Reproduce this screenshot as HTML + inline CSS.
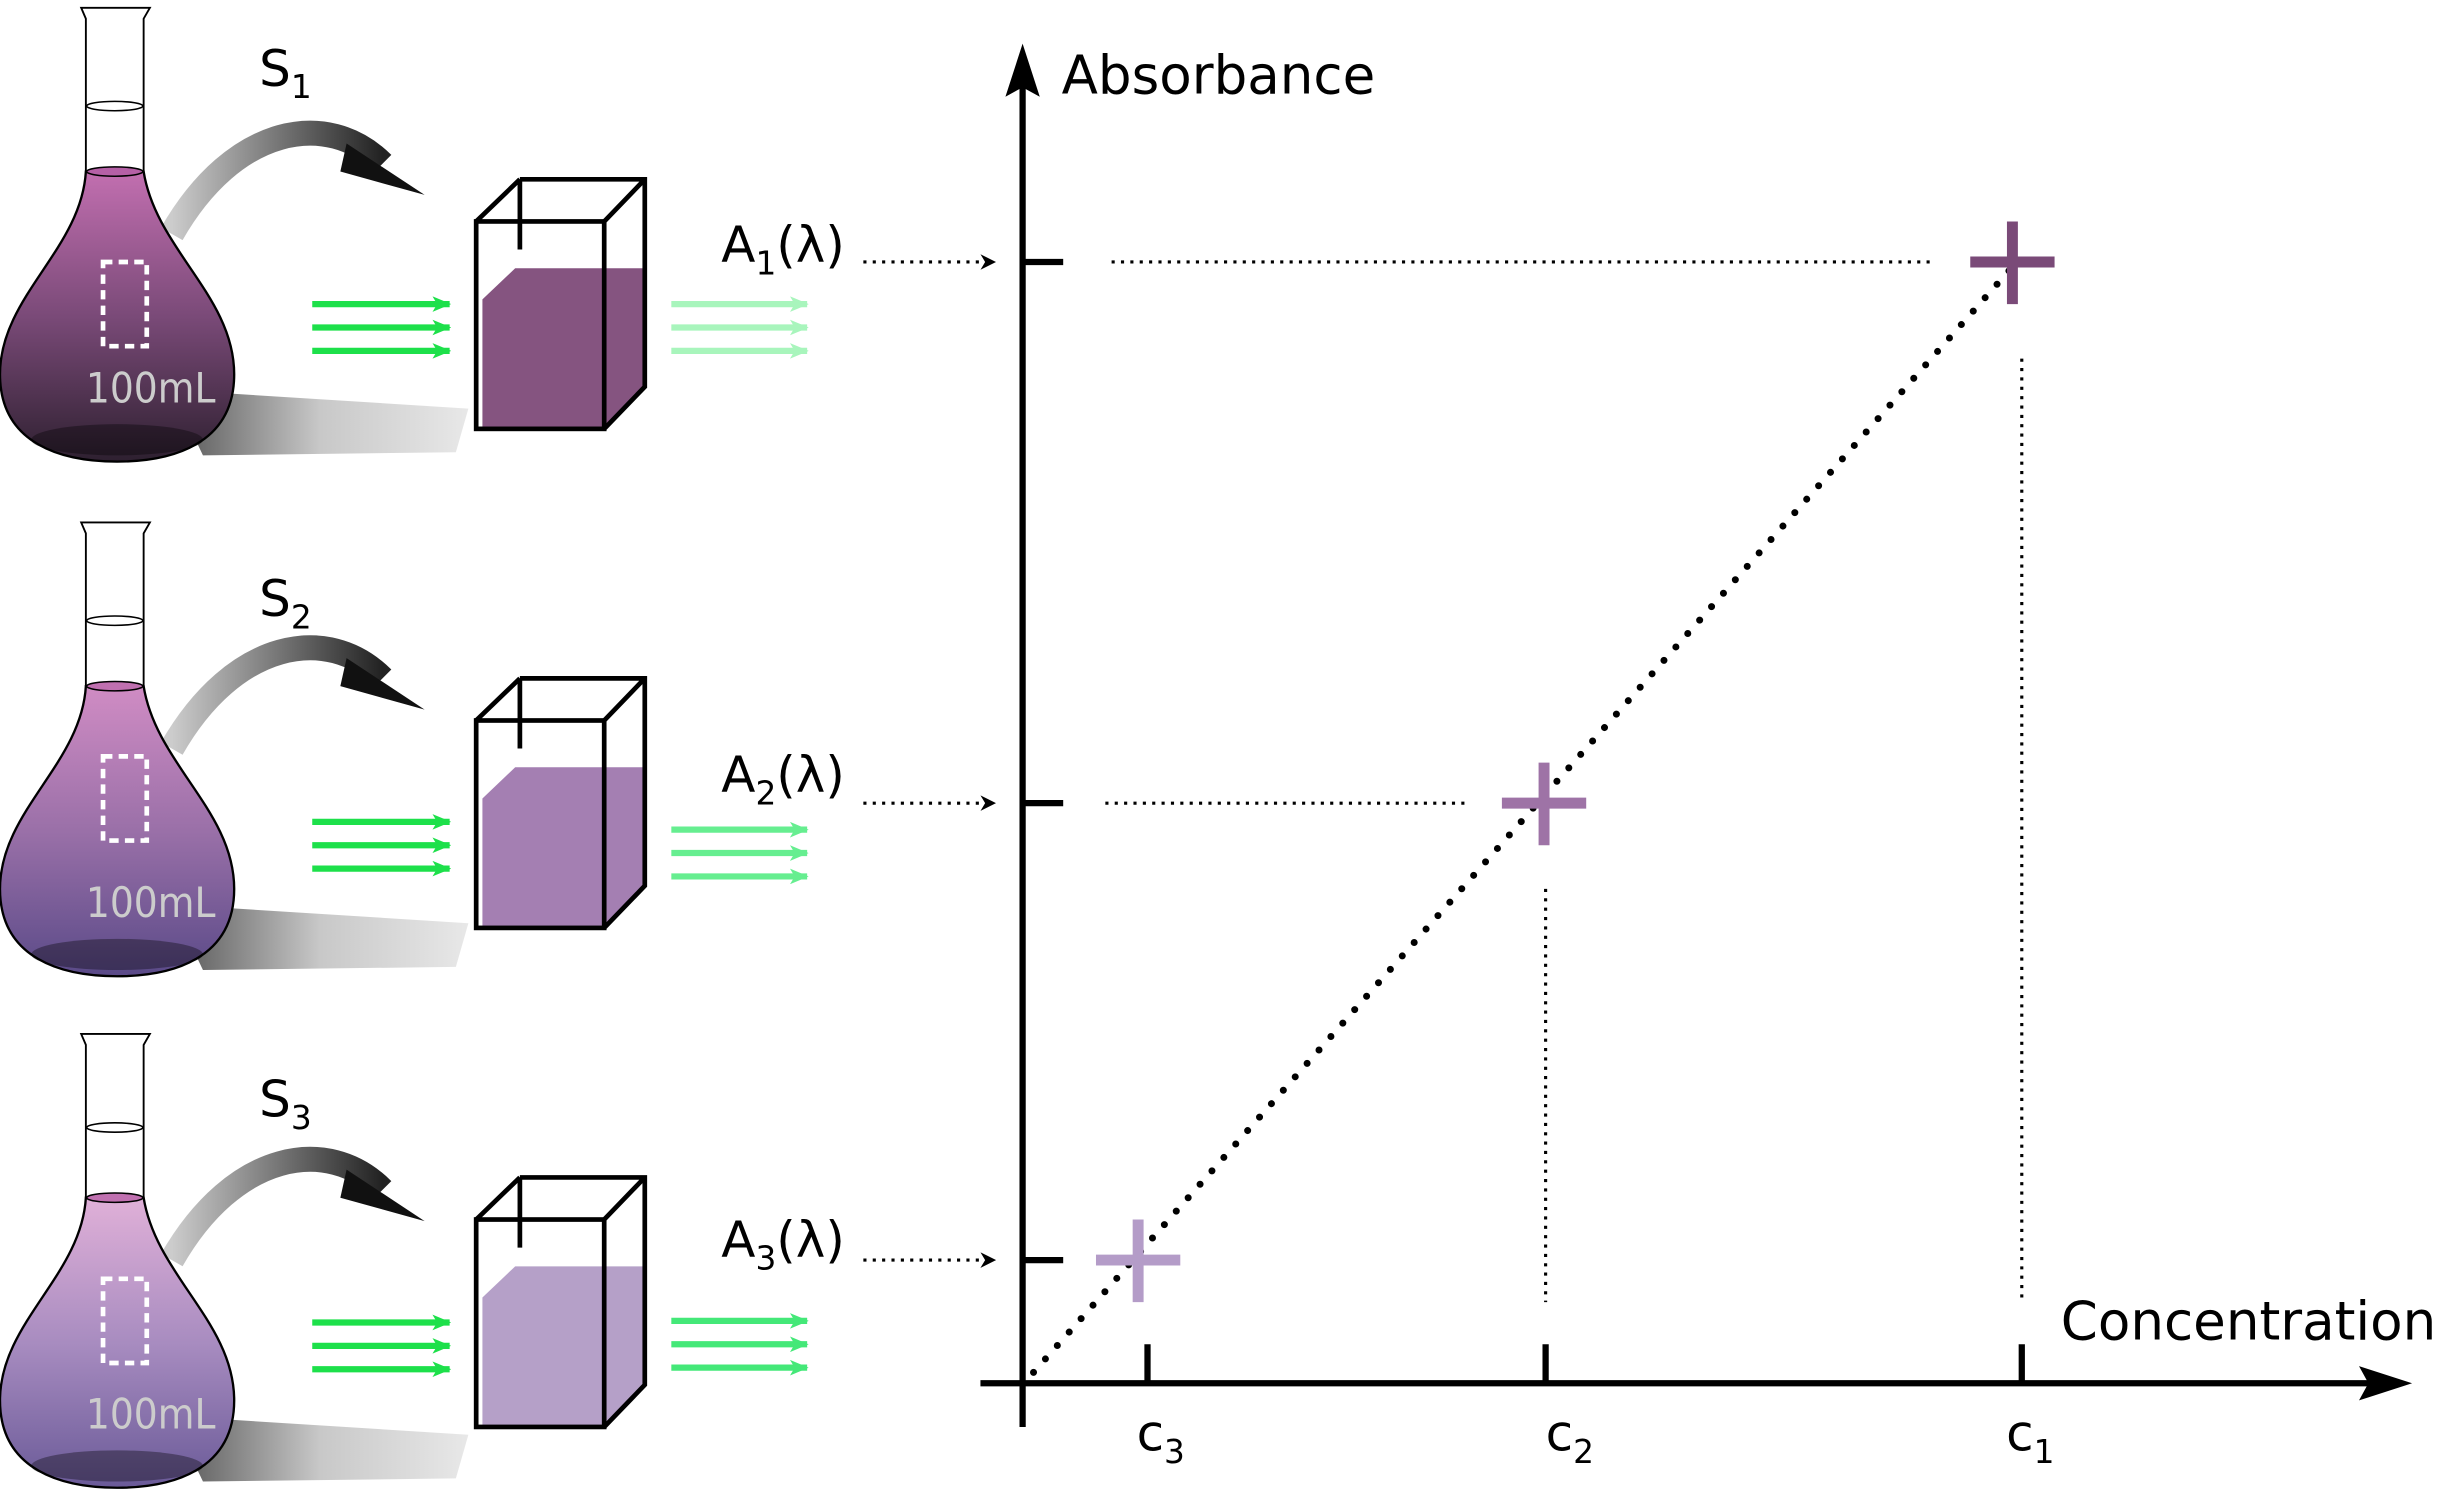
<!DOCTYPE html>
<html><head><meta charset="utf-8"><style>
html,body{margin:0;padding:0;background:#fff;}
svg{display:block;}
text{font-family:"DejaVu Sans","Liberation Sans",sans-serif;}
</style></head><body>
<svg width="2448" height="1494" viewBox="0 0 1568 958" preserveAspectRatio="none" xmlns="http://www.w3.org/2000/svg">
<defs>
<linearGradient id="ga" x1="0" y1="0" x2="1" y2="0"><stop offset="0" stop-color="#ccc"/><stop offset="1" stop-color="#222"/></linearGradient>
<linearGradient id="sh" x1="0" y1="0" x2="1" y2="0"><stop offset="0" stop-color="#555"/><stop offset="0.5" stop-color="#c8c8c8"/><stop offset="1" stop-color="#e8e8e8"/></linearGradient>
<linearGradient id="f1" x1="0" y1="0" x2="0" y2="1"><stop offset="0" stop-color="#c26fb0"/><stop offset="0.5" stop-color="#7a4a78"/><stop offset="1" stop-color="#2e2030"/></linearGradient>
<linearGradient id="f2" x1="0" y1="0" x2="0" y2="1"><stop offset="0" stop-color="#d08cc4"/><stop offset="0.5" stop-color="#9a70a8"/><stop offset="1" stop-color="#5a4a88"/></linearGradient>
<linearGradient id="f3" x1="0" y1="0" x2="0" y2="1"><stop offset="0" stop-color="#e0b0d8"/><stop offset="0.5" stop-color="#a88cc0"/><stop offset="1" stop-color="#6a5a98"/></linearGradient>
<marker id="ah" markerWidth="10" markerHeight="10" refX="9" refY="5" orient="auto" markerUnits="userSpaceOnUse"><path d="M0,0 L10,5 L0,10 L3,5z" fill="#000"/></marker>
<marker id="g1" markerWidth="12" markerHeight="10" refX="11" refY="5" orient="auto" markerUnits="userSpaceOnUse"><path d="M0,0 L12,5 L0,10 L3,5z" fill="#1de04a"/></marker>
<marker id="g2" markerWidth="12" markerHeight="10" refX="11" refY="5" orient="auto" markerUnits="userSpaceOnUse"><path d="M0,0 L12,5 L0,10 L3,5z" fill="#a8f5bc"/></marker>
<marker id="g3" markerWidth="12" markerHeight="10" refX="11" refY="5" orient="auto" markerUnits="userSpaceOnUse"><path d="M0,0 L12,5 L0,10 L3,5z" fill="#66ee90"/></marker>
<marker id="g4" markerWidth="12" markerHeight="10" refX="11" refY="5" orient="auto" markerUnits="userSpaceOnUse"><path d="M0,0 L12,5 L0,10 L3,5z" fill="#44e878"/></marker>
</defs>

<g>
 <path d="M110,250 L300,262 L292,290 L130,292z" fill="url(#sh)"/>
 <path d="M110,150 C150,80 210,70 245,105" stroke="url(#ga)" stroke-width="16" fill="none"/>
 <path d="M222,92 L272,125 L218,110z" fill="#111"/>
 <path d="M55,110 C52,160 0,190 0,240 C0,285 40,296 75,296 C110,296 150,285 150,240 C150,190 100,160 92,110z" fill="url(#f1)" stroke="#000" stroke-width="1.5"/>
 <path d="M52,5 L96,5 L92,12 L92,110 L55,110 L55,12z" fill="#fff" stroke="#000" stroke-width="1.2"/>
 <ellipse cx="73.5" cy="68" rx="18" ry="3" fill="none" stroke="#000" stroke-width="1"/>
 <ellipse cx="73.5" cy="110" rx="18" ry="3" fill="#b560a6" stroke="#000" stroke-width="1"/>
 <rect x="66" y="168" width="28" height="54" fill="none" stroke="#fff" stroke-width="3" stroke-dasharray="6,4"/>
 <ellipse cx="75" cy="282" rx="55" ry="10" fill="#000" opacity="0.35"/>
 <text x="55" y="258" font-size="27" fill="#ccc" textLength="83" lengthAdjust="spacingAndGlyphs">100mL</text>
 <text x="166" y="55" font-size="32">S<tspan font-size="21" dy="8">1</tspan></text>
</g>
<g transform="translate(0,330)">
 <path d="M110,250 L300,262 L292,290 L130,292z" fill="url(#sh)"/>
 <path d="M110,150 C150,80 210,70 245,105" stroke="url(#ga)" stroke-width="16" fill="none"/>
 <path d="M222,92 L272,125 L218,110z" fill="#111"/>
 <path d="M55,110 C52,160 0,190 0,240 C0,285 40,296 75,296 C110,296 150,285 150,240 C150,190 100,160 92,110z" fill="url(#f2)" stroke="#000" stroke-width="1.5"/>
 <path d="M52,5 L96,5 L92,12 L92,110 L55,110 L55,12z" fill="#fff" stroke="#000" stroke-width="1.2"/>
 <ellipse cx="73.5" cy="68" rx="18" ry="3" fill="none" stroke="#000" stroke-width="1"/>
 <ellipse cx="73.5" cy="110" rx="18" ry="3" fill="#c070b0" stroke="#000" stroke-width="1"/>
 <rect x="66" y="155" width="28" height="54" fill="none" stroke="#fff" stroke-width="3" stroke-dasharray="6,4"/>
 <ellipse cx="75" cy="282" rx="55" ry="10" fill="#000" opacity="0.35"/>
 <text x="55" y="258" font-size="27" fill="#ccc" textLength="83" lengthAdjust="spacingAndGlyphs">100mL</text>
 <text x="166" y="65" font-size="32">S<tspan font-size="21" dy="8">2</tspan></text>
</g>
<g transform="translate(0,658)">
 <path d="M110,250 L300,262 L292,290 L130,292z" fill="url(#sh)"/>
 <path d="M110,150 C150,80 210,70 245,105" stroke="url(#ga)" stroke-width="16" fill="none"/>
 <path d="M222,92 L272,125 L218,110z" fill="#111"/>
 <path d="M55,110 C52,160 0,190 0,240 C0,285 40,296 75,296 C110,296 150,285 150,240 C150,190 100,160 92,110z" fill="url(#f3)" stroke="#000" stroke-width="1.5"/>
 <path d="M52,5 L96,5 L92,12 L92,110 L55,110 L55,12z" fill="#fff" stroke="#000" stroke-width="1.2"/>
 <ellipse cx="73.5" cy="65" rx="18" ry="3" fill="none" stroke="#000" stroke-width="1"/>
 <ellipse cx="73.5" cy="110" rx="18" ry="3" fill="#c070b0" stroke="#000" stroke-width="1"/>
 <rect x="66" y="162" width="28" height="54" fill="none" stroke="#fff" stroke-width="3" stroke-dasharray="6,4"/>
 <ellipse cx="75" cy="282" rx="55" ry="10" fill="#000" opacity="0.35"/>
 <text x="55" y="258" font-size="27" fill="#ccc" textLength="83" lengthAdjust="spacingAndGlyphs">100mL</text>
 <text x="166" y="58" font-size="32">S<tspan font-size="21" dy="8">3</tspan></text>
</g>

<g fill="none" stroke="#000" stroke-width="3">
 <g>
  <path d="M309,192 L330,172 L412,172 L412,248 L387,275 L309,275z" fill="#855480" stroke="none"/>
  <path d="M333,115 L413,115 L413,248 L387,275 M305,142 L333,115 M387,142 L413,115 M333,115 L333,160"/>
  <rect x="305" y="142" width="82" height="133"/>
 </g>
 <g transform="translate(0,320)">
  <path d="M309,192 L330,172 L412,172 L412,248 L387,275 L309,275z" fill="#a47fb2" stroke="none"/>
  <path d="M333,115 L413,115 L413,248 L387,275 M305,142 L333,115 M387,142 L413,115 M333,115 L333,160"/>
  <rect x="305" y="142" width="82" height="133"/>
 </g>
 <g transform="translate(0,640)">
  <path d="M309,192 L330,172 L412,172 L412,248 L387,275 L309,275z" fill="#b5a0c8" stroke="none"/>
  <path d="M333,115 L413,115 L413,248 L387,275 M305,142 L333,115 M387,142 L413,115 M333,115 L333,160"/>
  <rect x="305" y="142" width="82" height="133"/>
 </g>
</g>

<g stroke-width="4">
 <g stroke="#1de04a" marker-end="url(#g1)">
  <path d="M200,195 H288"/><path d="M200,210 H288"/><path d="M200,225 H288"/>
  <path d="M200,527 H288"/><path d="M200,542 H288"/><path d="M200,557 H288"/>
  <path d="M200,848 H288"/><path d="M200,863 H288"/><path d="M200,878 H288"/>
 </g>
 <g stroke="#a8f5bc" marker-end="url(#g2)"><path d="M430,195 H517"/><path d="M430,210 H517"/><path d="M430,225 H517"/></g>
 <g stroke="#66ee90" marker-end="url(#g3)"><path d="M430,532 H517"/><path d="M430,547 H517"/><path d="M430,562 H517"/></g>
 <g stroke="#44e878" marker-end="url(#g4)"><path d="M430,847 H517"/><path d="M430,862 H517"/><path d="M430,877 H517"/></g>
</g>

<g font-size="32">
 <text x="462" y="168">A<tspan font-size="21" dy="8">1</tspan><tspan dy="-8">(λ)</tspan></text>
 <text x="462" y="508">A<tspan font-size="21" dy="8">2</tspan><tspan dy="-8">(λ)</tspan></text>
 <text x="462" y="806">A<tspan font-size="21" dy="8">3</tspan><tspan dy="-8">(λ)</tspan></text>
</g>
<g stroke="#000" stroke-width="2" stroke-dasharray="2,4" marker-end="url(#ah)">
 <path d="M553,168 H637"/><path d="M553,515 H637"/><path d="M553,808 H637"/>
</g>

<g stroke="#000" stroke-width="4" fill="none">
 <path d="M655,915 V50"/><path d="M628,887 H1520"/>
 <path d="M655,168 H681 M655,515 H681 M655,808 H681"/>
 <path d="M735,862 V887 M990,862 V887 M1295,862 V887"/>
</g>
<path d="M655,28 L666,62 L655,56 L644,62z" fill="#000"/>
<path d="M1545,887 L1511,876 L1517,887 L1511,898z" fill="#000"/>
<text x="680" y="60" font-size="34">Absorbance</text>
<text x="1320" y="859" font-size="34">Concentration</text>
<g font-size="32">
 <text x="728" y="930">c<tspan font-size="21" dy="8">3</tspan></text>
 <text x="990" y="930">c<tspan font-size="21" dy="8">2</tspan></text>
 <text x="1285" y="930">c<tspan font-size="21" dy="8">1</tspan></text>
</g>

<g stroke="#000" stroke-width="2" stroke-dasharray="2,4" fill="none">
 <path d="M712,168 H1240"/><path d="M708,515 H942"/>
 <path d="M1295,230 V835"/><path d="M990,570 V835"/>
</g>
<path d="M662,880 L1290,170" stroke="#000" stroke-width="4.5" stroke-dasharray="0,11.5" stroke-linecap="round"/>

<g stroke-width="7">
 <path d="M1262,168 H1316 M1289,142 V195" stroke="#7a4a78"/>
 <path d="M962,515 H1016 M989,489 V542" stroke="#9e73a6"/>
 <path d="M702,808 H756 M729,782 V835" stroke="#b49cc8"/>
</g>
</svg>
</body></html>
